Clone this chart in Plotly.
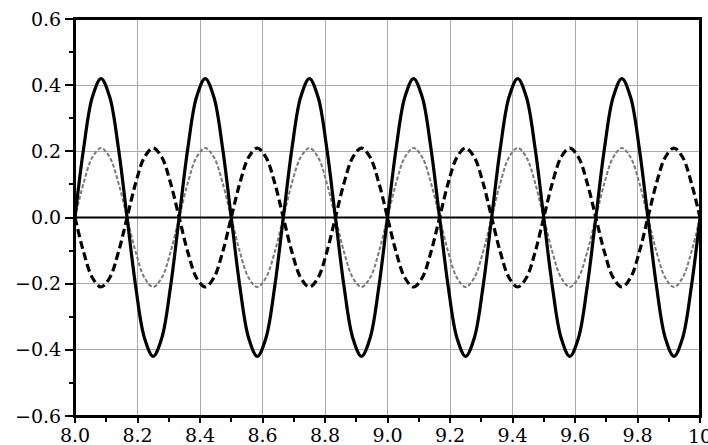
import numpy as np
import plotly.graph_objects as go

# time axis: 8 s to 10 s, sampled every 1/36 s (12 samples per 1/3 s cycle)
t_start = 8.0
t_end = 10.0
n_samples = 73
time = np.linspace(t_start, t_end, n_samples)

# main response (thick solid), amplitude ~0.42
solid_main = [
    0.0, 0.21, 0.364, 0.42, 0.364, 0.21, 0.0, -0.21, -0.364, -0.42, -0.364, -0.21,
    0.0, 0.21, 0.364, 0.42, 0.364, 0.21, 0.0, -0.21, -0.364, -0.42, -0.364, -0.21,
    0.0, 0.21, 0.364, 0.42, 0.364, 0.21, 0.0, -0.21, -0.364, -0.42, -0.364, -0.21,
    0.0, 0.21, 0.364, 0.42, 0.364, 0.21, 0.0, -0.21, -0.364, -0.42, -0.364, -0.21,
    0.0, 0.21, 0.364, 0.42, 0.364, 0.21, 0.0, -0.21, -0.364, -0.42, -0.364, -0.21,
    0.0, 0.21, 0.364, 0.42, 0.364, 0.21, 0.0, -0.21, -0.364, -0.42, -0.364, -0.21,
    0.0,
]

# thick dashed, opposite phase, amplitude ~0.21
dashed_thick = [
    0.0, -0.105, -0.182, -0.21, -0.182, -0.105, 0.0, 0.105, 0.182, 0.21, 0.182, 0.105,
    0.0, -0.105, -0.182, -0.21, -0.182, -0.105, 0.0, 0.105, 0.182, 0.21, 0.182, 0.105,
    0.0, -0.105, -0.182, -0.21, -0.182, -0.105, 0.0, 0.105, 0.182, 0.21, 0.182, 0.105,
    0.0, -0.105, -0.182, -0.21, -0.182, -0.105, 0.0, 0.105, 0.182, 0.21, 0.182, 0.105,
    0.0, -0.105, -0.182, -0.21, -0.182, -0.105, 0.0, 0.105, 0.182, 0.21, 0.182, 0.105,
    0.0, -0.105, -0.182, -0.21, -0.182, -0.105, 0.0, 0.105, 0.182, 0.21, 0.182, 0.105,
    0.0,
]

# thin grey dashed, in phase with main, amplitude ~0.21
dashed_grey = [
    0.0, 0.105, 0.182, 0.21, 0.182, 0.105, 0.0, -0.105, -0.182, -0.21, -0.182, -0.105,
    0.0, 0.105, 0.182, 0.21, 0.182, 0.105, 0.0, -0.105, -0.182, -0.21, -0.182, -0.105,
    0.0, 0.105, 0.182, 0.21, 0.182, 0.105, 0.0, -0.105, -0.182, -0.21, -0.182, -0.105,
    0.0, 0.105, 0.182, 0.21, 0.182, 0.105, 0.0, -0.105, -0.182, -0.21, -0.182, -0.105,
    0.0, 0.105, 0.182, 0.21, 0.182, 0.105, 0.0, -0.105, -0.182, -0.21, -0.182, -0.105,
    0.0, 0.105, 0.182, 0.21, 0.182, 0.105, 0.0, -0.105, -0.182, -0.21, -0.182, -0.105,
    0.0,
]

# flat line, practically zero all along
flat_line = [0.0] * n_samples

x_ticks = [8.0, 8.2, 8.4, 8.6, 8.8, 9.0, 9.2, 9.4, 9.6, 9.8, 10.0]
x_labels = ["8.0", "8.2", "8.4", "8.6", "8.8", "9.0", "9.2", "9.4", "9.6", "9.8", ""]
last_x_label = "10"  # sits half outside the window, drawn as annotation
y_ticks = [-0.6, -0.4, -0.2, 0.0, 0.2, 0.4, 0.6]
y_labels = ["\u22120.6", "\u22120.4", "\u22120.2", "0.0", "0.2", "0.4", "0.6"]

fig = go.Figure()
fig.add_trace(go.Scatter(x=time, y=flat_line, mode="lines",
                         line=dict(color="black", width=2)))
fig.add_trace(go.Scatter(x=time, y=dashed_grey, mode="lines",
                         line=dict(color="#7a7a7a", width=2, dash="4px,2px",
                                   shape="spline")))
fig.add_trace(go.Scatter(x=time, y=dashed_thick, mode="lines",
                         line=dict(color="black", width=3.2, dash="8px,4px",
                                   shape="spline")))
fig.add_trace(go.Scatter(x=time, y=solid_main, mode="lines",
                         line=dict(color="black", width=3.2, shape="spline")))

axis_font = dict(family="DejaVu Serif", size=19, color="black")

fig.update_layout(
    width=708, height=445,
    margin=dict(l=75, r=8, t=19, b=29),
    paper_bgcolor="white", plot_bgcolor="white",
    showlegend=False,
    font=axis_font,
    xaxis=dict(range=[8.0, 10.0], tickvals=x_ticks, ticktext=x_labels,
               showgrid=True, gridcolor="#ababab", gridwidth=1,
               showline=True, linecolor="black", linewidth=2, mirror=True,
               ticks="outside", ticklen=5, tickwidth=1.5, tickcolor="black",
               ticklabelstandoff=-4,
               minor=dict(ticks="outside", ticklen=4, dtick=0.1, tick0=8.0,
                          tickcolor="black", showgrid=False),
               zeroline=False, tickfont=axis_font, automargin=False),
    yaxis=dict(range=[-0.6, 0.6], tickvals=y_ticks, ticktext=y_labels,
               showgrid=True, gridcolor="#ababab", gridwidth=1,
               showline=True, linecolor="black", linewidth=2, mirror=True,
               ticks="outside", ticklen=8, tickwidth=1.5, tickcolor="black",
               minor=dict(ticks="outside", ticklen=4, dtick=0.1, tick0=0.0,
                          tickcolor="black", showgrid=False),
               zeroline=False, tickfont=axis_font, automargin=False),
    # frame round the plot area (top edge included)
    shapes=[dict(type="rect", xref="paper", yref="paper", x0=0, x1=1, y0=0, y1=1,
                 line=dict(color="black", width=2), layer="above")],
    annotations=[dict(x=x_ticks[-1], xref="x", y=0, yref="paper",
                      text=last_x_label, showarrow=False, xanchor="center",
                      yanchor="top", yshift=-7, font=axis_font)],
)

# drop the default 8px page margin so the 708x445 figure fills the window
fig.write_html("out.html", config={"displayModeBar": False},
               post_script="document.body.style.margin='0';")
